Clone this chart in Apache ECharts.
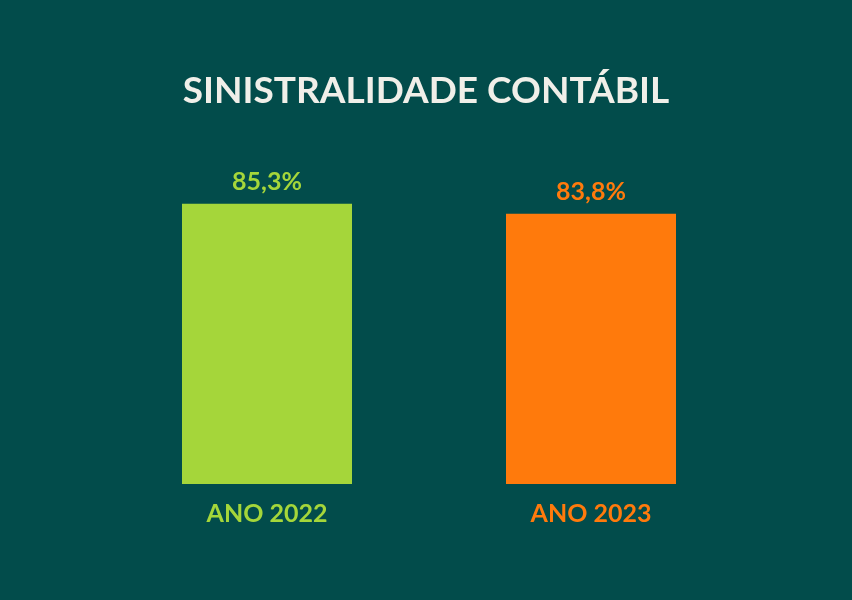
<!DOCTYPE html>
<html>
<head>
<meta charset="utf-8">
<script src="https://cdn.jsdelivr.net/npm/echarts@6/dist/echarts.min.js"></script>
<style>
  html, body { margin: 0; padding: 0; background: #024c4b; }
  #chart { width: 852px; height: 600px; }
</style>
</head>
<body>
<div id="chart"></div>
<script>
var anos = ['ANO 2022', 'ANO 2023']
var sinistralidade = [85.3, 83.8]
var cores = ['#a5d63a', '#ff7a0c']

var myChart = echarts.init(document.getElementById('chart'))
var fonte = 'Lato'

myChart.setOption({
    backgroundColor: '#024c4b',
    title: {
        text: 'SINISTRALIDADE CONTÁBIL',
        left: 'center',
        top: 68,
        textStyle: { color: '#f0efe9', fontSize: 37, fontWeight: 'bold', fontFamily: fonte }
    },
    grid: { left: 105, right: 99, top: 139, bottom: 116 },
    xAxis: {
        type: 'category',
        data: anos.map(function (a, i) {
            return { value: a, textStyle: { color: cores[i] } }
        }),
        axisLine: { show: false },
        axisTick: { show: false },
        axisLabel: { margin: 17, fontSize: 25, fontWeight: 'bold', fontFamily: fonte }
    },
    yAxis: { type: 'value', min: 43.3, max: 95, show: false },
    series: [{
        type: 'bar',
        barWidth: 170,
        data: sinistralidade.map(function (v, i) {
            return {
                value: v,
                itemStyle: { color: cores[i] },
                label: { color: cores[i] }
            }
        }),
        label: {
            show: true,
            position: 'top',
            distance: 9,
            fontSize: 25,
            fontWeight: 'bold',
            fontFamily: fonte,
            formatter: function (p) { return p.value.toFixed(1).replace('.', ',') + '%' }
        }
    }]
})
</script>
</body>
</html>
